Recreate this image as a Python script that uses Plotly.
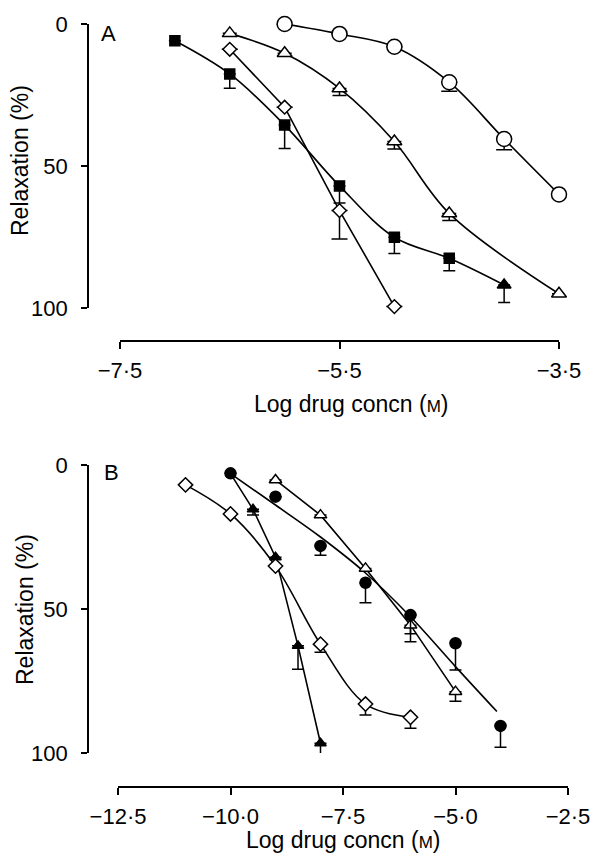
import plotly.graph_objects as go

W, H = 593, 854

# ---------------- Panel A data ----------------
a_circ_x = [-6.0, -5.5, -5.0, -4.5, -4.0, -3.5]
a_circ_y = [0.0, 3.5, 8.0, 20.5, 40.5, 60.0]
a_circ_err = [None, None, None, 3.2, 3.8, None]

a_otri_x = [-6.5, -6.0, -5.5, -5.0, -4.5, -3.5]
a_otri_y = [3.3, 10.3, 22.7, 41.4, 66.7, 95.0]
a_otri_err = [None, None, 2.5, 2.6, 2.5, None]

a_sq_x = [-7.0, -6.5, -6.0, -5.5, -5.0, -4.5, -4.0]
a_sq_y = [5.9, 17.6, 35.6, 57.0, 75.1, 82.5, 91.9]
a_sq_err = [None, 5.0, 8.2, 6.0, 5.7, 4.4, 6.2]
a_sq_sym = ["square", "square", "square", "square", "square", "square", "triangle-up"]

a_dia_x = [-6.5, -6.0, -5.5, -5.0]
a_dia_y = [8.9, 29.3, 65.7, 99.5]
a_dia_err = [None, None, 10.0, None]

a_xrange = [-7.5, -3.5]
a_xticks = [-7.5, -5.5, -3.5]
a_xlabels = ["\u22127\u00b75", "\u22125\u00b75", "\u22123\u00b75"]

# ---------------- Panel B data ----------------
b_dia_x = [-11.0, -10.0, -9.0, -8.0, -7.0, -6.0]
b_dia_y = [6.9, 17.0, 35.1, 62.2, 83.0, 87.6]
b_dia_err = [None, None, None, 2.8, 3.8, 3.8]

b_fcirc_x = [-10.0, -9.0, -8.0, -7.0, -6.0, -5.0, -4.0]
b_fcirc_y = [2.9, 11.0, 28.1, 40.9, 52.1, 61.9, 90.6]
b_fcirc_err = [None, None, 3.2, 6.9, 9.3, 9.3, 7.4]
# fitted line for filled circles
b_fcirc_fit_x = [-10.0, -9.0, -8.0, -7.0, -6.0, -5.0, -4.08]
b_fcirc_fit_y = [3.0, 13.9, 25.0, 37.5, 52.7, 70.0, 85.6]

b_otri_x = [-9.0, -8.0, -7.0, -6.0, -5.0]
b_otri_y = [5.2, 17.4, 35.9, 55.6, 78.7]
b_otri_err = [None, None, None, 3.0, 3.3]

b_ftri_x = [-9.5, -9.0, -8.5, -8.0]
b_ftri_y = [15.4, 32.0, 62.8, 96.6]
b_ftri_err = [2.0, None, 8.1, 7.6]
# line for filled triangles (starts from the shared point at -10)
b_ftri_line_x = [-10.0, -9.5, -9.0, -8.5, -8.0]
b_ftri_line_y = [3.0, 15.4, 32.0, 62.8, 96.6]

b_xrange = [-12.5, -2.5]
b_xticks = [-12.5, -10.0, -7.5, -5.0, -2.5]
b_xlabels = ["\u221212\u00b75", "\u221210\u00b70", "\u22127\u00b75", "\u22125\u00b70", "\u22122\u00b75"]

y_range = [100, 0]
y_ticks = [0, 50, 100]
y_labels = ["0", "50", "100"]

# ---------------- layout geometry (pixels) ----------------
FONT = "Liberation Sans, Arial, Helvetica, sans-serif"
LW = 1.6
AXW = 1.6
YAX_PX = 89                       # y-axis line x position
A_X0, A_X1, A_Y0, A_Y100, A_XLINE = 120, 559, 24, 308, 340
B_X0, B_X1, B_Y0, B_Y100, B_XLINE = 118, 568, 465, 753, 786


def pxx(x):
    return x / W


def pyy(y):
    return 1 - y / H


def ext_range(rng, x0, x1):
    ppu = (x1 - x0) / (rng[1] - rng[0])
    return [rng[0] - (x0 - YAX_PX) / ppu, rng[1]]


def line_trace(x, y, ax, shape="spline"):
    return go.Scatter(x=x, y=y, mode="lines", xaxis=ax[0], yaxis=ax[1],
                      line=dict(color="black", width=LW, shape=shape, smoothing=1.0),
                      hoverinfo="skip", showlegend=False)


def marker_trace(x, y, err, ax, symbol, size, filled, capw):
    return go.Scatter(
        x=x, y=y, mode="markers", xaxis=ax[0], yaxis=ax[1], cliponaxis=False,
        marker=dict(symbol=symbol, size=size, opacity=1,
                    color="#000000" if filled else "#ffffff",
                    line=dict(color="#000000", width=1.5)),
        error_y=dict(type="data", symmetric=False, array=err,
                     arrayminus=[0 if e is not None else None for e in err],
                     color="black", thickness=1.5, width=capw),
        showlegend=False)


def axis_holder(ticks, ax):
    # invisible trace so that the detached x-axis subplot is drawn
    return go.Scatter(x=ticks, y=[0.5] * len(ticks), mode="markers",
                      xaxis=ax[0], yaxis=ax[1], marker=dict(opacity=0),
                      hoverinfo="skip", showlegend=False)


A = ("x", "y")
B = ("x2", "y2")

fig = go.Figure()
fig.add_trace(axis_holder(a_xticks, ("x3", "y3")))
fig.add_trace(axis_holder(b_xticks, ("x4", "y4")))

# lines
fig.add_trace(line_trace(a_circ_x, a_circ_y, A))
fig.add_trace(line_trace(a_otri_x, a_otri_y, A))
fig.add_trace(line_trace(a_sq_x, a_sq_y, A))
fig.add_trace(line_trace(a_dia_x, a_dia_y, A, shape="linear"))

fig.add_trace(line_trace(b_dia_x, b_dia_y, B))
fig.add_trace(line_trace(b_fcirc_fit_x, b_fcirc_fit_y, B))
fig.add_trace(line_trace(b_otri_x, b_otri_y, B, shape="linear"))
fig.add_trace(line_trace(b_ftri_line_x, b_ftri_line_y, B, shape="linear"))

# markers
fig.add_trace(marker_trace(a_sq_x, a_sq_y, a_sq_err, A, a_sq_sym,
                           [10, 10, 10, 10, 10, 10, 12], True, 6))
fig.add_trace(marker_trace(a_dia_x, a_dia_y, a_dia_err, A, "diamond", 10.5, False, 8))
fig.add_trace(marker_trace(a_otri_x, a_otri_y, a_otri_err, A, "triangle-up", 13, False, 7))
fig.add_trace(marker_trace(a_circ_x, a_circ_y, a_circ_err, A, "circle", 15, False, 8))

fig.add_trace(marker_trace(b_ftri_x, b_ftri_y, b_ftri_err, B, "triangle-up", 10, True, 6))
fig.add_trace(marker_trace(b_dia_x, b_dia_y, b_dia_err, B, "diamond", 11, False, 6))
fig.add_trace(marker_trace(b_otri_x, b_otri_y, b_otri_err, B, "triangle-up", 11, False, 6))
fig.add_trace(marker_trace(b_fcirc_x, b_fcirc_y, b_fcirc_err, B, "circle", 11, True, 6))

tickfont = dict(family=FONT, size=22, color="black")
hidden_x = dict(showline=False, ticks="", showticklabels=False, showgrid=False,
                zeroline=False, automargin=False, fixedrange=True)
hidden_y = dict(showline=False, ticks="", showticklabels=False, showgrid=False,
                zeroline=False, automargin=False, fixedrange=True, range=[0, 1])
shown_x = dict(showline=True, linecolor="black", linewidth=AXW, ticks="outside",
               ticklen=7, tickwidth=AXW, tickcolor="black", showgrid=False,
               zeroline=False, tickfont=tickfont, ticklabelstandoff=3,
               automargin=False, fixedrange=True)
shown_y = dict(showline=True, linecolor="black", linewidth=AXW, ticks="outside",
               ticklen=6, tickwidth=AXW, tickcolor="black", showgrid=False,
               zeroline=False, tickfont=tickfont, range=y_range,
               tickvals=y_ticks, ticktext=y_labels, ticklabelstandoff=9,
               automargin=False, fixedrange=True)

fig.update_layout(
    width=W, height=H, autosize=False,
    margin=dict(l=0, r=0, t=0, b=0, pad=0, autoexpand=False),
    paper_bgcolor="white", plot_bgcolor="rgba(0,0,0,0)", showlegend=False,
    # data subplots: x domain starts at the y-axis line
    xaxis=dict(hidden_x, domain=[pxx(YAX_PX), pxx(A_X1)],
               range=ext_range(a_xrange, A_X0, A_X1), anchor="y"),
    yaxis=dict(shown_y, domain=[pyy(A_Y100), pyy(A_Y0)], anchor="x"),
    xaxis2=dict(hidden_x, domain=[pxx(YAX_PX), pxx(B_X1)],
                range=ext_range(b_xrange, B_X0, B_X1), anchor="y2"),
    yaxis2=dict(shown_y, domain=[pyy(B_Y100), pyy(B_Y0)], anchor="x2"),
    # detached bottom x axes
    xaxis3=dict(shown_x, domain=[pxx(A_X0), pxx(A_X1)], range=a_xrange,
                tickvals=a_xticks, ticktext=a_xlabels, anchor="y3"),
    yaxis3=dict(hidden_y, domain=[pyy(A_XLINE), pyy(A_XLINE - 4)], anchor="x3"),
    xaxis4=dict(shown_x, domain=[pxx(B_X0), pxx(B_X1)], range=b_xrange,
                tickvals=b_xticks, ticktext=b_xlabels, anchor="y4"),
    yaxis4=dict(hidden_y, domain=[pyy(B_XLINE), pyy(B_XLINE - 4)], anchor="x4"),
)

tfont = dict(family=FONT, size=23, color="black")
ann = [
    dict(text="A", x=pxx(108), y=pyy(33), font=dict(family=FONT, size=22, color="black")),
    dict(text="B", x=pxx(111), y=pyy(473), font=dict(family=FONT, size=22, color="black")),
    dict(text="Log drug concn (<span style='font-size:17px'>M</span>)", x=pxx(351), y=pyy(404), font=tfont),
    dict(text="Log drug concn (<span style='font-size:17px'>M</span>)", x=pxx(343), y=pyy(840), font=tfont),
    dict(text="Relaxation (%)", x=pxx(20), y=pyy(161), font=tfont, textangle=-90),
    dict(text="Relaxation (%)", x=pxx(25), y=pyy(610), font=tfont, textangle=-90),
]
for a in ann:
    a.update(xref="paper", yref="paper", showarrow=False, xanchor="center", yanchor="middle")
fig.update_layout(annotations=ann)

fig.write_html("out.html", config={"responsive": False})
